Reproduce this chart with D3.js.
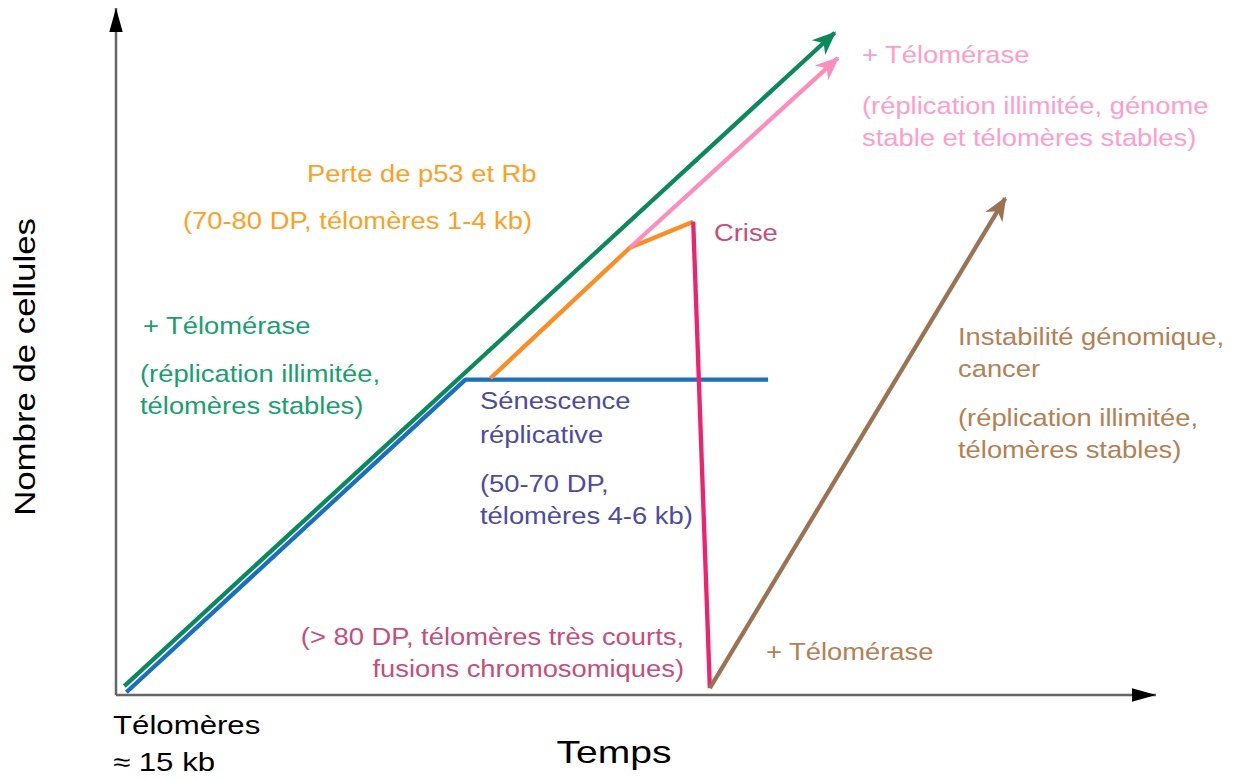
<!DOCTYPE html>
<html>
<head>
<meta charset="utf-8">
<script src="https://cdn.jsdelivr.net/npm/d3@7"></script>
<style>
  body { margin: 0; background: #fff; }
  text { font-family: "Liberation Sans", Arial, sans-serif; }
</style>
</head>
<body>
<div id="chart"></div>
<script>
// time (0-100) / cell count (0-100), arbitrary units
const greenLine = [[0.8, 1.3], [69.1, 96.4]]
const blueLine = [[1.0, 0.4], [33.6, 45.9], [62.7, 45.9]]
const orangeLine = [[36.0, 46.1], [49.4, 65.1], [55.5, 68.9]]
const pinkLine = [[49.4, 65.1], [69.4, 92.7]]
const crisisLine = [[55.5, 68.9], [57.1, 1.0]]
const brownLine = [[57.1, 1.0], [85.5, 72.3]]

const pinkLabels = ["+ Télomérase", "(réplication illimitée, génome", "stable et télomères stables)"]
const orangeLabels = ["Perte de p53 et Rb", "(70-80 DP, télomères 1-4 kb)"]
const greenLabels = ["+ Télomérase", "(réplication illimitée,", "télomères stables)"]
const blueLabels = ["Sénescence", "réplicative", "(50-70 DP,", "télomères 4-6 kb)"]
const crisisLabels = ["Crise", "(> 80 DP, télomères très courts,", "fusions chromosomiques)"]
const brownLabels = ["Instabilité génomique,", "cancer", "(réplication illimitée,", "télomères stables)", "+ Télomérase"]

const width = 1234
const height = 780

const svg = d3.select("#chart").append("svg")
  .attr("width", width)
  .attr("height", height)

const x = d3.scaleLinear().domain([0, 100]).range([116, 1156])
const y = d3.scaleLinear().domain([0, 100]).range([695, 8])

const defs = svg.append("defs")

function marker(id, color, barbed) {
  defs.append("marker")
    .attr("id", id)
    .attr("viewBox", "-24 -12 26 24")
    .attr("refX", 0).attr("refY", 0)
    .attr("markerUnits", "userSpaceOnUse")
    .attr("markerWidth", 26).attr("markerHeight", 24)
    .attr("orient", "auto")
    .append("path")
    .attr("d", barbed ? "M2,0 L-22,-10 L-15,0 L-22,10 Z" : "M0,0 L-25,-7 L-25,7 Z")
    .attr("fill", color)
}
marker("ax", "#000", false)
marker("ag", "#0a8a5c", true)
marker("ap", "#ff8cba", true)
marker("ab", "#9b7352", true)

// axes
svg.append("line")
  .attr("x1", x(0)).attr("y1", y(0)).attr("x2", x(0)).attr("y2", y(100))
  .attr("stroke", "#666").attr("stroke-width", 2.5)
  .attr("marker-end", "url(#ax)")
svg.append("line")
  .attr("x1", x(0)).attr("y1", y(0)).attr("x2", x(100)).attr("y2", y(0))
  .attr("stroke", "#666").attr("stroke-width", 2.5)
  .attr("marker-end", "url(#ax)")

const line = d3.line().x(d => x(d[0])).y(d => y(d[1]))

function drawLine(data, color, arrow) {
  svg.append("path")
    .attr("d", line(data))
    .attr("fill", "none")
    .attr("stroke", color)
    .attr("stroke-width", 4.3)
    .attr("stroke-linejoin", "round")
    .attr("marker-end", arrow ? `url(#${arrow})` : null)
}

drawLine(blueLine, "#1a6fc0")
drawLine(orangeLine, "#ff8c1f")
drawLine(pinkLine, "#ff8cba", "ap")
drawLine(greenLine, "#0a8a5c", "ag")
drawLine(crisisLine, "#f0226e")
drawLine(brownLine, "#9b7352", "ab")

// labels (the source figure is a bit stretched horizontally)
function label(txt, px, py, color, opts = {}) {
  const size = opts.size || 24
  const sx = opts.sx || 1.14
  const g = svg.append("g")
    .attr("transform", `translate(${px},${py}) rotate(${opts.rotate || 0}) scale(${sx},1)`)
  g.append("text")
    .attr("dy", "0.35em")
    .attr("text-anchor", opts.anchor || "start")
    .attr("font-size", size)
    .attr("fill", color)
    .text(txt)
}

const pinkY = [55, 106, 138]
pinkLabels.forEach((t, i) => label(t, 862, pinkY[i], "#ff9ec8"))

label(orangeLabels[0], 307, 174, "#ffa01f")
label(orangeLabels[1], 183, 221, "#ffa01f")

const greenY = [326, 374, 406]
const greenX = [143, 140, 140]
greenLabels.forEach((t, i) => label(t, greenX[i], greenY[i], "#17a070"))

const blueY = [401, 435, 484, 516]
blueLabels.forEach((t, i) => label(t, 480, blueY[i], "#4b4ba6"))

label(crisisLabels[0], 714, 233, "#c64e7c")
label(crisisLabels[1], 684, 637, "#c64e7c", { anchor: "end" })
label(crisisLabels[2], 684, 669, "#c64e7c", { anchor: "end" })

const brownY = [337, 369, 418, 450]
brownLabels.slice(0, 4).forEach((t, i) => label(t, 958, brownY[i], "#b58052"))
label(brownLabels[4], 766, 652, "#b58052")

// axis titles
label("Temps", 614, 752, "#000", { size: 32, sx: 1.22, anchor: "middle" })
label("Nombre de cellules", 25, 367, "#000", { size: 29, sx: 1.2, anchor: "middle", rotate: -90 })
label("Télomères", 113, 725, "#000", { size: 26, sx: 1.2 })
label("≈ 15 kb", 113, 762, "#000", { size: 26, sx: 1.2 })
</script>
</body>
</html>
